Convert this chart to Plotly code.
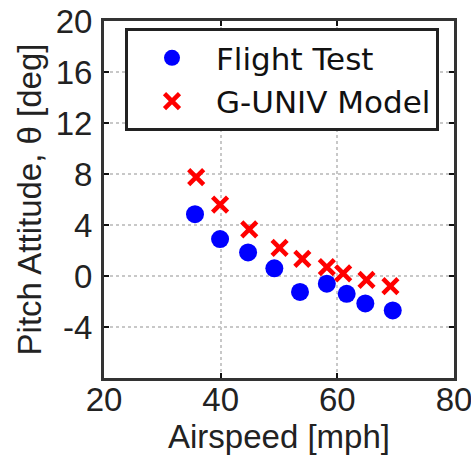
import plotly.graph_objects as go

# Flight test data
flight_speed = [35.6, 39.9, 44.7, 49.2, 53.6, 58.2, 61.6, 64.8, 69.5]
flight_pitch = [4.85, 2.9, 1.85, 0.6, -1.25, -0.6, -1.4, -2.15, -2.7]

# G-UNIV model data
model_speed = [35.8, 39.9, 44.9, 50.1, 54.0, 58.2, 61.0, 65.0, 69.1]
model_pitch = [7.75, 5.6, 3.65, 2.2, 1.35, 0.7, 0.2, -0.3, -0.8]

x_ticks = [20, 40, 60, 80]
y_ticks = [-4, 0, 4, 8, 12, 16, 20]

FONT = "Liberation Sans, Arial, sans-serif"
LEGEND_FONT = "DejaVu Sans, Liberation Sans, sans-serif"
FS = 33

fig = go.Figure()
fig.add_trace(go.Scatter(
    x=flight_speed, y=flight_pitch, mode="markers", name="Flight Test",
    marker=dict(symbol="circle", size=18, color="#0000ff"),
))
fig.add_trace(go.Scatter(
    x=model_speed, y=model_pitch, mode="markers", name="G-UNIV Model",
    marker=dict(symbol="x-thin-open", size=15, color="#ff0000",
                line=dict(color="#ff0000", width=4.5)),
))

axis_common = dict(
    showgrid=True, gridcolor="#c8c8c8", griddash="dot", gridwidth=1.5,
    showline=True, linecolor="#333333", linewidth=3, mirror="ticks",
    ticks="inside", ticklen=5, tickwidth=2, tickcolor="#111111",
    zeroline=False, tickfont=dict(size=FS, color="#222222"),
    automargin=False, ticklabeloverflow="allow",
)

fig.update_layout(
    width=471, height=458,
    margin=dict(l=104, r=17, t=21, b=80),
    paper_bgcolor="white", plot_bgcolor="white",
    font=dict(family=FONT, size=FS, color="#222222"),
    showlegend=True,
    legend=dict(
        x=0.06, y=0.98, xanchor="left", yanchor="top",
        bgcolor="white", bordercolor="#222222", borderwidth=3,
        font=dict(size=31, family=LEGEND_FONT, color="#111111"),
        itemwidth=78, tracegroupgap=0,
    ),
    xaxis=dict(
        range=[20, 80], tickvals=x_ticks, ticktext=[str(v) for v in x_ticks],
        title=dict(text="Airspeed [mph]", font=dict(size=FS), standoff=9),
        ticklabelstandoff=-10,
        **axis_common,
    ),
    yaxis=dict(
        range=[-8, 20], tickvals=y_ticks, ticktext=[str(v) for v in y_ticks],
        title=dict(text="Pitch Attitude, \u03b8 [deg]", font=dict(size=FS), standoff=5),
        ticklabelstandoff=2,
        **axis_common,
    ),
)

fig.write_html(
    "out.html",
    config={"displayModeBar": False},
    post_script="document.body.style.margin='0';document.body.style.overflow='hidden';",
)
